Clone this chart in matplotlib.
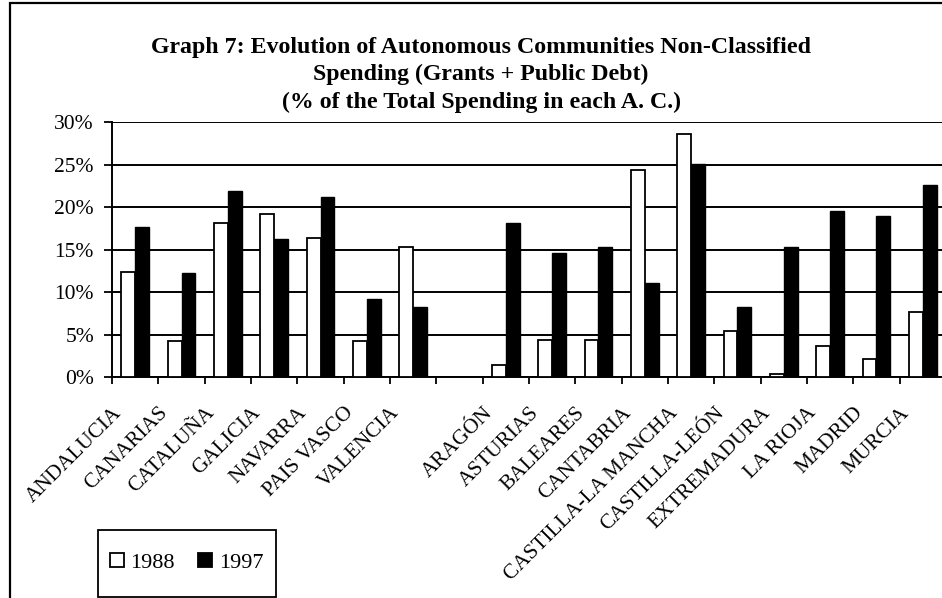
import numpy as np
import matplotlib
matplotlib.use("Agg")
import matplotlib.pyplot as plt
from matplotlib.patches import Rectangle
from matplotlib.transforms import ScaledTranslation, blended_transform_factory

categories = ["ANDALUCIA", "CANARIAS", "CATALUÑA", "GALICIA", "NAVARRA", "PAIS VASCO",
              "VALENCIA", "", "ARAGÓN", "ASTURIAS", "BALEARES", "CANTABRIA",
              "CASTILLA-LA MANCHA", "CASTILLA-LEÓN", "EXTREMADURA", "LA RIOJA", "MADRID", "MURCIA"]
v1988 = [12.4, 4.2, 18.1, 19.2, 16.4, 4.2, 15.3, np.nan, 1.4, 4.4, 4.4, 24.4,
         28.6, 5.4, 0.4, 3.7, 2.1, 7.7]
v1997 = [17.6, 12.2, 21.9, 16.2, 21.2, 9.2, 8.2, np.nan, 18.1, 14.6, 15.3, 11.1,
         25.1, 8.2, 15.3, 19.5, 19.0, 22.6]
yticks = [0, 5, 10, 15, 20, 25, 30]
title = ("Graph 7: Evolution of Autonomous Communities Non-Classified\n"
         "Spending (Grants + Public Debt)\n"
         "(% of the Total Spending in each A. C.)")

plt.rcParams['font.family'] = ['Liberation Serif', 'DejaVu Serif']

W, H = 942, 598
fig = plt.figure(figsize=(W / 100, H / 100), dpi=100)
ax = fig.add_axes([112 / W, 1 - 377 / H, (946 - 112) / W, (377 - 122) / H])

x = np.arange(len(categories))
bw = 0.3
ax.bar(x - bw / 2, v1988, width=bw, color='white', edgecolor='black', linewidth=1.3,
       label='1988', zorder=3)
ax.bar(x + bw / 2, v1997, width=bw, color='black', edgecolor='black', linewidth=1.0,
       label='1997', zorder=3)

ax.set_xlim(-0.5, len(categories) - 0.5)
ax.set_ylim(0, 30)
ax.set_yticks(yticks)
ax.set_yticklabels([f"{t}%" for t in yticks], fontsize=15.5)
ax.yaxis.grid(True, color='black', linewidth=1.4, zorder=0)
ax.set_axisbelow(True)

ax.set_xticks(np.arange(len(categories) + 1) - 0.5)
ax.set_xticklabels([])
ax.tick_params(axis='x', which='major', direction='out', length=5, width=1.3)
ax.tick_params(axis='y', direction='out', length=6, width=1.3, pad=7)

# category labels, rotated 45 degrees, anchored below each category centre
base = blended_transform_factory(ax.transData, ax.transAxes)
off = ScaledTranslation(-0.23, -0.265, fig.dpi_scale_trans)
for xi, cat in zip(x, categories):
    ax.text(xi, 0, cat, transform=base + off, rotation=45, ha='right', va='top',
            rotation_mode='anchor', fontsize=15.3, clip_on=False)

for s in ['top', 'right']:
    ax.spines[s].set_visible(False)
ax.spines['left'].set_linewidth(1.4)
ax.spines['bottom'].set_linewidth(1.4)

fig.text(481 / W, 1 - 37 / H, title, ha='center', va='top', fontsize=17.2,
         fontweight='bold', linespacing=1.38)

# legend frame drawn separately to match box proportions
fig.patches.append(Rectangle((98 / W, 1 - 597 / H), (276 - 98) / W, (597 - 530) / H,
                             transform=fig.transFigure, fill=False, edgecolor='black',
                             linewidth=1.3))
leg = fig.legend(loc='center left', bbox_to_anchor=(110 / W, 1 - 563 / H), ncol=2,
                 fontsize=16, frameon=False,
                 handlelength=0.62, handleheight=0.62, handletextpad=0.3,
                 columnspacing=1.05, borderpad=0, borderaxespad=0)
for h in leg.legend_handles:
    h.set_linewidth(1.3)

fig.patches.append(Rectangle((10 / W, -0.5), 2, 0.5 + 1 - 3 / H, transform=fig.transFigure,
                             fill=False, edgecolor='black', linewidth=1.6))

fig.savefig("out.png", dpi=100)
